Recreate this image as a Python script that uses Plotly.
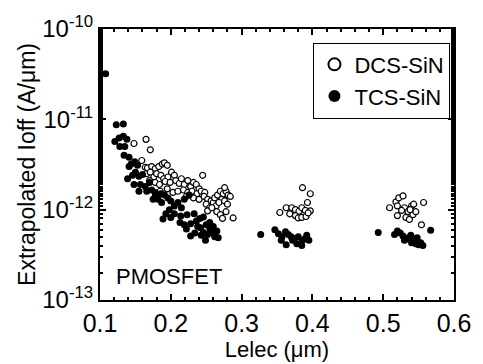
import plotly.graph_objects as go

# DCS-SiN (open circles)
dcs_x = [0.148,0.165,0.171,0.159,0.164,
         0.167,0.173,0.178,0.183,0.188,0.191,0.195,
         0.166,0.171,0.176,0.180,0.186,0.190,0.196,0.201,0.205,
         0.170,0.178,0.184,0.192,0.199,0.207,0.212,
         0.215,0.219,0.224,0.228,0.232,0.236,0.240,
         0.245,
         0.185,0.195,0.203,0.210,0.218,0.224,0.230,0.237,0.243,0.248,
         0.222,0.232,0.240,0.247,0.252,0.257,
         0.250,0.255,0.260,0.264,0.262,0.266,0.270,0.274,0.278,0.281,0.284,0.276,0.272,0.268,0.276,0.280,
         0.252,0.265,0.270,0.273,0.278,0.288,0.258,
         0.354,0.363,0.371,0.376,0.381,0.385,0.390,0.397,
         0.386,0.397,0.393,
         0.376,0.380,0.385,0.391,0.368,0.394,
         0.509,0.518,0.522,0.528,0.520,0.530,0.535,0.540,0.543,0.557,0.520,0.532,0.537,0.542,0.546,0.554,0.526,0.538]
dcs_y = [5.4e-12,6.0e-12,4.6e-12,3.5e-12,2.95e-12,
         2.9e-12,3.0e-12,2.85e-12,3.0e-12,3.2e-12,3.3e-12,3.1e-12,
         2.5e-12,2.6e-12,2.3e-12,2.5e-12,2.4e-12,2.2e-12,2.3e-12,2.6e-12,2.4e-12,
         2.1e-12,2.0e-12,1.9e-12,2.05e-12,2.0e-12,2.1e-12,1.95e-12,
         2.2e-12,1.9e-12,2.1e-12,1.8e-12,2.0e-12,1.9e-12,1.7e-12,
         2.4e-12,
         1.6e-12,1.7e-12,1.55e-12,1.6e-12,1.65e-12,1.55e-12,1.6e-12,1.5e-12,1.6e-12,1.55e-12,
         1.4e-12,1.35e-12,1.3e-12,1.4e-12,1.3e-12,1.25e-12,
         1.15e-12,1.05e-12,1.2e-12,1.1e-12,1.35e-12,1.45e-12,1.6e-12,1.5e-12,1.6e-12,1.45e-12,1.4e-12,1.75e-12,1.3e-12,1.2e-12,1.25e-12,1.15e-12,
         9.7e-13,9.5e-13,8.8e-13,8.0e-13,9.5e-13,8.1e-13,1.05e-12,
         9.3e-13,1.05e-12,1.05e-12,1.0e-12,9.6e-13,1.05e-12,9.8e-13,9.7e-13,
         1.75e-12,1.5e-12,1.2e-12,
         8.6e-13,8.1e-13,8.2e-13,8.4e-13,9.0e-13,9.2e-13,
         1.05e-12,1.22e-12,1.35e-12,1.42e-12,1.1e-12,1.05e-12,9.5e-13,1.1e-12,1.15e-12,1.2e-12,8.6e-13,8.2e-13,7.8e-13,8.8e-13,9.5e-13,6.8e-13,9.8e-13,1.0e-12]

# TCS-SiN (filled circles)
tcs_x = [0.108,0.123,0.133,0.121,0.127,0.133,0.138,
         0.128,0.135,0.134,0.141,
         0.141,0.144,0.149,0.153,
         0.139,0.146,0.155,0.160,0.150,
         0.148,0.157,0.164,0.170,
         0.155,0.166,0.173,0.178,
         0.178,0.182,0.187,0.191,0.196,0.186,0.175,
         0.189,
         0.200,0.210,0.219,0.226,0.205,0.215,0.198,
         0.205,0.214,0.223,0.233,0.200,0.193,
         0.213,0.219,0.222,0.228,0.236,0.241,0.246,0.238,
         0.228,0.242,0.250,0.255,0.260,0.246,0.252,0.258,0.265,0.262,0.267,0.249,0.255,0.234,0.243,
         0.327,0.347,0.352,0.357,0.362,0.366,0.370,0.375,0.380,0.386,0.390,0.395,0.363,0.378,0.385,0.372,0.356,0.392,
         0.493,0.516,0.520,0.524,0.528,0.532,0.536,0.539,0.543,0.546,0.550,0.553,0.556,0.540,0.567,0.530,0.548]
tcs_y = [3.2e-11,8.7e-12,8.9e-12,5.7e-12,6.2e-12,6.5e-12,6.0e-12,
         5.0e-12,5.0e-12,4.0e-12,3.8e-12,
         3.0e-12,3.2e-12,3.4e-12,3.1e-12,
         2.2e-12,2.4e-12,2.35e-12,2.45e-12,2.6e-12,
         1.9e-12,1.9e-12,1.8e-12,2.0e-12,
         1.6e-12,1.6e-12,1.65e-12,1.55e-12,
         1.4e-12,1.3e-12,1.2e-12,1.45e-12,1.35e-12,1.5e-12,1.3e-12,
         7.9e-13,
         1.25e-12,1.2e-12,1.3e-12,1.45e-12,1.1e-12,1.05e-12,1.0e-12,
         9.0e-13,8.5e-13,8.8e-13,9.0e-13,8.2e-13,9.0e-13,
         7.2e-13,6.8e-13,6.1e-13,7.0e-13,7.5e-13,8.0e-13,8.3e-13,6.5e-13,
         5.1e-13,6.3e-13,6.8e-13,6.2e-13,6.5e-13,5.6e-13,5.3e-13,5.6e-13,5.8e-13,5.0e-13,4.9e-13,4.6e-13,7.2e-13,5.5e-13,5.2e-13,
         5.3e-13,6.0e-13,5.4e-13,5.0e-13,5.7e-13,5.3e-13,5.0e-13,4.8e-13,5.0e-13,4.6e-13,4.8e-13,4.6e-13,4.1e-13,4.2e-13,4.0e-13,4.6e-13,4.6e-13,5.2e-13,
         5.6e-13,5.3e-13,5.8e-13,5.5e-13,5.1e-13,4.7e-13,4.9e-13,5.2e-13,4.5e-13,4.2e-13,4.1e-13,4.3e-13,4.0e-13,4.3e-13,5.9e-13,4.6e-13,4.9e-13]

x_ticks = [0.1, 0.2, 0.3, 0.4, 0.5, 0.6]
y_ticks = [1e-13, 1e-12, 1e-11, 1e-10]
y_ticktext = ["10<sup>-13</sup>", "10<sup>-12</sup>", "10<sup>-11</sup>", "10<sup>-10</sup>"]

FONT = "Liberation Sans, Arial, Helvetica, sans-serif"

fig = go.Figure()
fig.add_trace(go.Scatter(
    x=dcs_x, y=dcs_y, mode="markers", name="DCS-SiN",
    marker=dict(symbol="circle", size=6, color="white", line=dict(color="black", width=1.2)),
))
fig.add_trace(go.Scatter(
    x=tcs_x, y=tcs_y, mode="markers", name="TCS-SiN",
    marker=dict(symbol="circle", size=7, color="black", line=dict(color="black", width=0)),
))

fig.update_layout(
    width=483, height=364,
    margin=dict(l=100, r=19, t=26, b=49),
    paper_bgcolor="white", plot_bgcolor="white",
    font=dict(family=FONT, color="black", size=22),
    showlegend=True,
    legend=dict(
        x=0.99, y=0.95, xanchor="right", yanchor="top",
        bgcolor="white", bordercolor="black", borderwidth=1,
        font=dict(family=FONT, size=22, color="black"),
        itemsizing="constant", tracegroupgap=0, itemwidth=30,
    ),
    annotations=[dict(
        x=0.04, y=0.087, xref="paper", yref="paper", xanchor="left", yanchor="middle",
        text="PMOSFET", showarrow=False, font=dict(family=FONT, size=22, color="black"),
    )],
)

fig.update_xaxes(
    range=[0.1, 0.6], tickvals=x_ticks, ticktext=[f"{v:.1f}" for v in x_ticks],
    showgrid=False, zeroline=False, showline=True, linecolor="black", linewidth=2, mirror="ticks",
    ticks="inside", ticklen=6, tickwidth=1.5, tickcolor="black",
    minor=dict(dtick=0.02, ticks="inside", ticklen=3, tickcolor="black", showgrid=False),
    title=dict(text="Lelec (μm)", font=dict(family=FONT, size=22), standoff=0),
    tickfont=dict(family=FONT, size=25),
)
fig.update_yaxes(
    type="log", range=[-13, -10], tickvals=y_ticks, ticktext=y_ticktext,
    showgrid=False, zeroline=False, showline=True, linecolor="black", linewidth=2, mirror="ticks",
    ticks="inside", ticklen=6, tickwidth=1.5, tickcolor="black",
    minor=dict(ticks="inside", ticklen=3, tickcolor="black", showgrid=False),
    title=dict(text="Extrapolated Ioff (A/μm)", font=dict(family=FONT, size=23), standoff=0),
    tickfont=dict(family=FONT, size=24),
)

fig.write_html("out.html")
